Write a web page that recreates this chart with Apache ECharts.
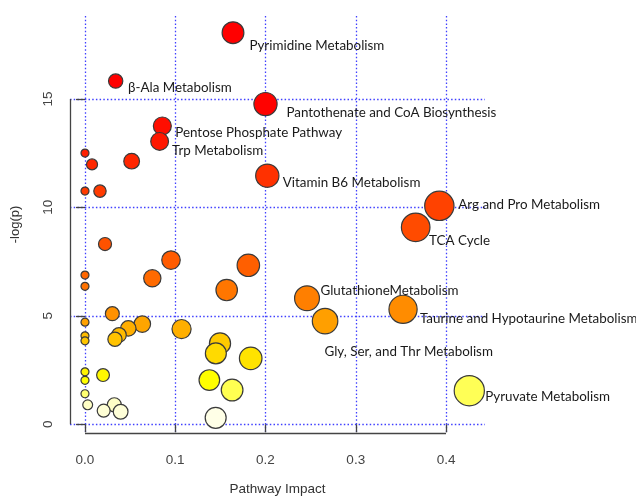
<!DOCTYPE html>
<html>
<head>
<meta charset="utf-8">
<script src="https://cdn.jsdelivr.net/npm/echarts@6/dist/echarts.min.js"></script>
<style>
html,body{margin:0;padding:0;background:#fff;}
#chart{width:636px;height:496px;}
</style>
</head>
<body>
<div id="chart"></div>
<script>
// ---- data (ordered by decreasing -log(p)) ----
const impact = [0.164, 0.034, 0.200, 0.0857, 0.0827, 0, 0.0517, 0.0078, 0.202, 0.0166,
  0, 0.3926, 0.3664, 0.0222, 0.0953, 0.181, 0, 0.0746, 0, 0.157,
  0.246, 0.3524, 0.0303, 0.266, 0, 0.0635, 0.048, 0.107, 0.0377, 0,
  0.0332, 0, 0.1496, 0.145, 0.1836, 0, 0.020, 0.1378, 0, 0.163,
  0.4258, 0, 0.003, 0.0325, 0.0207, 0.0395, 0.1448];
const logp = [18.05, 15.82, 14.76, 13.75, 13.04, 12.5, 12.13, 11.98, 11.46, 10.75,
  10.75, 10.07, 9.08, 8.31, 7.57, 7.33, 6.88, 6.73, 6.36, 6.19,
  5.81, 5.30, 5.10, 4.76, 4.71, 4.62, 4.42, 4.39, 4.12, 4.08,
  3.92, 3.85, 3.73, 3.27, 3.04, 2.42, 2.27, 2.04, 2.03, 1.58,
  1.55, 1.41, 0.90, 0.90, 0.63, 0.58, 0.30];
const names = ['Pyrimidine Metabolism', '\u03b2-Ala Metabolism', 'Pantothenate and CoA Biosynthesis',
  'Pentose Phosphate Pathway', 'Trp Metabolism', '', '', '', 'Vitamin B6 Metabolism', '',
  '', 'Arg and Pro Metabolism', 'TCA Cycle', '', '', '', '', '', '', '',
  'GlutathioneMetabolism', 'Taurine and Hypotaurine Metabolism', '', 'Gly, Ser, and Thr Metabolism', '', '', '', '', '', '',
  '', '', '', '', '', '', '', '', '', '',
  'Pyruvate Metabolism', '', '', '', '', '', ''];
const xTicks = [0, 0.1, 0.2, 0.3, 0.4];
const yTicks = [0, 5, 10, 15];

// ---- layout / style ----
const X_MIN = -0.0166, X_MAX = 0.4432, Y_MIN = -0.40, Y_MAX = 18.82;
// label offsets: [dx to text start, dy to text middle] from point centre
const labelOffset = {
  'Pyrimidine Metabolism': [17, 12],
  '\u03b2-Ala Metabolism': [13, 5],
  'Pantothenate and CoA Biosynthesis': [21.5, 7.5],
  'Pentose Phosphate Pathway': [13.5, 5],
  'Trp Metabolism': [13, 8.5],
  'Vitamin B6 Metabolism': [16, 6],
  'Arg and Pro Metabolism': [19.5, -2.5],
  'TCA Cycle': [14, 12.5],
  'GlutathioneMetabolism': [14, -9],
  'Taurine and Hypotaurine Metabolism': [17.5, 8.5],
  'Gly, Ser, and Thr Metabolism': [0, 29],
  'Pyruvate Metabolism': [16.5, 5]
};
const LABEL_DY = 1.8;
const heat = ['#FFFFF8', '#FFFFC0', '#FFFF00', '#FFE400', '#FFC000', '#FF9400', '#FF7A00', '#FF6400',
  '#FF5500', '#FF4C00', '#FF4300', '#FF3800', '#FF2800', '#FF1800', '#FF0A00', '#FF0000',
  '#FF0000', '#FF0000', '#FF0000'];
const labelFont = 'Lato';
const axisFont = 'Liberation Sans';
const gridColor = '#4040ff';
const axisColor = '#444';
const sizeOf = x => 8 + 34 * Math.sqrt(x);

const points = impact.map((x, i) => {
  const item = { value: [x, logp[i]], name: names[i] };
  if (names[i]) {
    const s = sizeOf(x) / 2;
    const off = labelOffset[names[i]];
    item.label = {
      show: true,
      position: [s + off[0], s + off[1] + LABEL_DY],
      align: 'left',
      verticalAlign: 'middle',
      formatter: '{b}'
    };
  }
  return item;
});

const chart = echarts.init(document.getElementById('chart'), null, { renderer: 'canvas' });
chart.setOption({
  animation: false,
  backgroundColor: '#ffffff',
  grid: { left: 70, right: 151, top: 16, bottom: 63, containLabel: false, outerBoundsMode: 'none' },
  xAxis: {
    type: 'value', min: X_MIN, max: X_MAX,
    name: 'Pathway Impact', nameLocation: 'middle', nameGap: 49,
    nameTextStyle: { fontFamily: axisFont, fontSize: 13.5, color: '#333' },
    axisLine: { show: false },
    axisTick: { show: true, inside: false, length: 8, customValues: xTicks,
      lineStyle: { color: axisColor, width: 1.3 } },
    axisLabel: { customValues: xTicks, margin: 20, fontFamily: axisFont, fontSize: 13.5, color: '#444',
      formatter: v => v.toFixed(1) },
    splitLine: { show: true, lineStyle: { color: gridColor, width: 1.3, type: [1.5, 2.2] } }
  },
  yAxis: {
    type: 'value', min: Y_MIN, max: Y_MAX,
    name: '-log(p)', nameLocation: 'middle', nameGap: 48,
    nameTextStyle: { fontFamily: axisFont, fontSize: 13, color: '#333' },
    axisLine: { show: false },
    axisTick: { show: true, inside: false, length: 9, customValues: yTicks,
      lineStyle: { color: axisColor, width: 1.3 } },
    axisLabel: { customValues: yTicks, rotate: 90, margin: 15, fontFamily: axisFont, fontSize: 13.5, color: '#444',
      formatter: v => String(v) },
    splitLine: { show: true, lineStyle: { color: gridColor, width: 1.3, type: [1.5, 2.2] } }
  },
  visualMap: {
    show: false, type: 'continuous', seriesIndex: 0, dimension: 1,
    min: 0, max: 18, inRange: { color: heat }
  },
  series: [
    {
      type: 'scatter',
      data: points,
      symbol: 'circle',
      symbolSize: v => sizeOf(v[0]),
      itemStyle: { borderColor: '#3a3a3a', borderWidth: 1.2, opacity: 1 },
      label: {
        show: false,
        color: '#1a1a1a', fontFamily: labelFont, fontSize: 13.4,
        textBorderWidth: 0
      },
      labelLayout: { hideOverlap: false },
      emphasis: { disabled: true },
      z: 3
    },
    {
      type: 'line',
      data: [],
      silent: true,
      z: 2,
      markLine: {
        silent: true,
        symbol: ['none', 'none'],
        label: { show: false },
        lineStyle: { color: axisColor, width: 1.3, type: 'solid' },
        data: [
          [{ coord: [X_MIN, yTicks[0]] }, { coord: [X_MIN, yTicks[yTicks.length - 1]] }],
          [{ coord: [xTicks[0], Y_MIN] }, { coord: [xTicks[xTicks.length - 1], Y_MIN] }]
        ]
      }
    }
  ]
});
</script>
</body>
</html>
